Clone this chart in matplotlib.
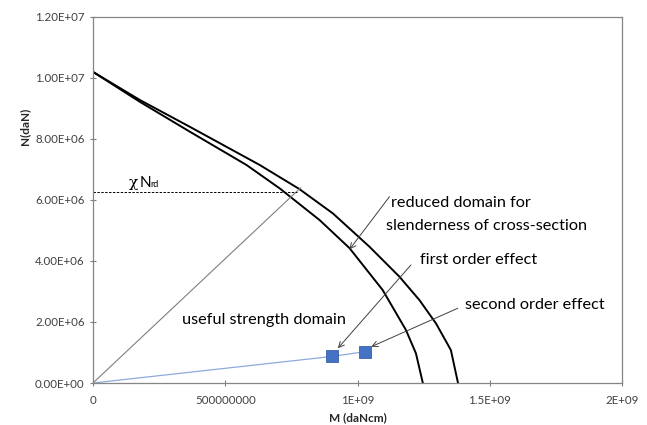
import numpy as np
import matplotlib.pyplot as plt

plt.rcParams['font.family'] = ['Lato', 'DejaVu Sans']

# --- interaction curves (M in daNcm, N in daN) ---
M_outer = [0, 0.177e9, 0.366e9, 0.63e9, 0.78e9, 0.907e9, 1.045e9, 1.158e9,
           1.234e9, 1.297e9, 1.353e9, 1.38e9]
N_outer = [10.2e6, 9.28e6, 8.40e6, 7.15e6, 6.36e6, 5.56e6, 4.47e6, 3.49e6,
           2.72e6, 1.95e6, 1.08e6, 0]

M_inner = [0, 0.177e9, 0.366e9, 0.58e9, 0.706e9, 0.857e9, 0.970e9, 1.095e9,
           1.183e9, 1.221e9, 1.247e9]
N_inner = [10.2e6, 9.22e6, 8.24e6, 7.15e6, 6.38e6, 5.34e6, 4.42e6, 3.05e6,
           1.74e6, 0.97e6, 0]

# radial line to chi*Nrd and the horizontal level
M_ray = [0, 0.785e9]
N_ray = [0, 6.4e6]
chi_Nrd = 6.25e6
M_chi_end = 0.77e9

# load path: first order / second order
M_load = [0, 0.903e9, 1.03e9]
N_load = [0, 0.87e6, 1.03e6]

xticks = [0, 0.5e9, 1e9, 1.5e9, 2e9]
xtick_labels = ['0', '500000000', '1E+09', '1.5E+09', '2E+09']
yticks = [0, 2e6, 4e6, 6e6, 8e6, 10e6, 12e6]

fig = plt.figure(figsize=(6.47, 4.25), dpi=100)
ax = fig.add_axes([93/647, 1 - 383/425, 529/647, 366/425])

ax.plot(M_outer, N_outer, color='black', lw=1.4)
ax.plot(M_inner, N_inner, color='black', lw=1.4)
ax.plot(M_ray, N_ray, color='#7f7f7f', lw=0.8)
ax.plot([0, M_chi_end], [chi_Nrd, chi_Nrd], color='black', lw=0.7, ls=(0, (2.5, 1.5)))
ax.plot(M_load, N_load, color='#8eaadb', lw=0.9)
ax.plot(M_load[1:], N_load[1:], ls='none', marker='s', ms=9,
        mfc='#4472c4', mec='#3a62a8', mew=0.6)

ax.set_xlim(0, 2e9)
ax.set_ylim(0, 1.2e7)
ax.set_xticks(xticks)
ax.set_xticklabels(xtick_labels)
ax.set_yticks(yticks)
ax.set_yticklabels(['%.2E' % v for v in yticks])
ax.tick_params(direction='inout', length=5, width=0.8, colors='#7f7f7f',
               labelcolor='#404040', labelsize=8.3)
ax.tick_params(axis='x', pad=6)
for s in ax.spines.values():
    s.set_color('#868686')
    s.set_linewidth(0.9)

ax.set_xlabel('M (daNcm)', fontsize=8.5, fontweight='bold', color='#262626')
ax.set_ylabel('N(daN)', fontsize=8.5, fontweight='bold', color='#262626')
ax.xaxis.label.set_va('center')
ax.yaxis.label.set_va('center')
ax.xaxis.set_label_coords(0.5, -0.095)
ax.yaxis.set_label_coords(-0.1285, 0.70)

# annotations
fs = 11.7
ax.text(0.136e9, 6.44e6, 'χ', fontsize=11, family='DejaVu Serif', va='baseline')
ax.text(0.177e9, 6.44e6, 'N', fontsize=11, va='baseline')
ax.text(0.216e9, 6.44e6, 'rd', fontsize=6.5, va='baseline')
ax.text(0.335e9, 2.05e6, 'useful strength domain', fontsize=fs, va='center')

ax.text(1.127e9, 5.91e6, 'reduced domain for', fontsize=fs, va='center')
ax.text(1.108e9, 5.16e6, 'slenderness of cross-section', fontsize=fs, va='center')
ax.text(1.236e9, 4.03e6, 'first order effect', fontsize=fs, va='center')
ax.text(1.408e9, 2.56e6, 'second order effect', fontsize=fs, va='center')

arrow = dict(arrowstyle='->', color='#404040', lw=0.7, shrinkA=0, shrinkB=0)
ax.annotate('', xy=(0.97e9, 4.38e6), xytext=(1.121e9, 6.11e6), arrowprops=arrow)
ax.annotate('', xy=(0.926e9, 1.14e6), xytext=(1.202e9, 3.87e6), arrowprops=arrow)
ax.annotate('', xy=(1.052e9, 1.19e6), xytext=(1.379e9, 2.45e6), arrowprops=arrow)

fig.savefig('out.png', dpi=100)
